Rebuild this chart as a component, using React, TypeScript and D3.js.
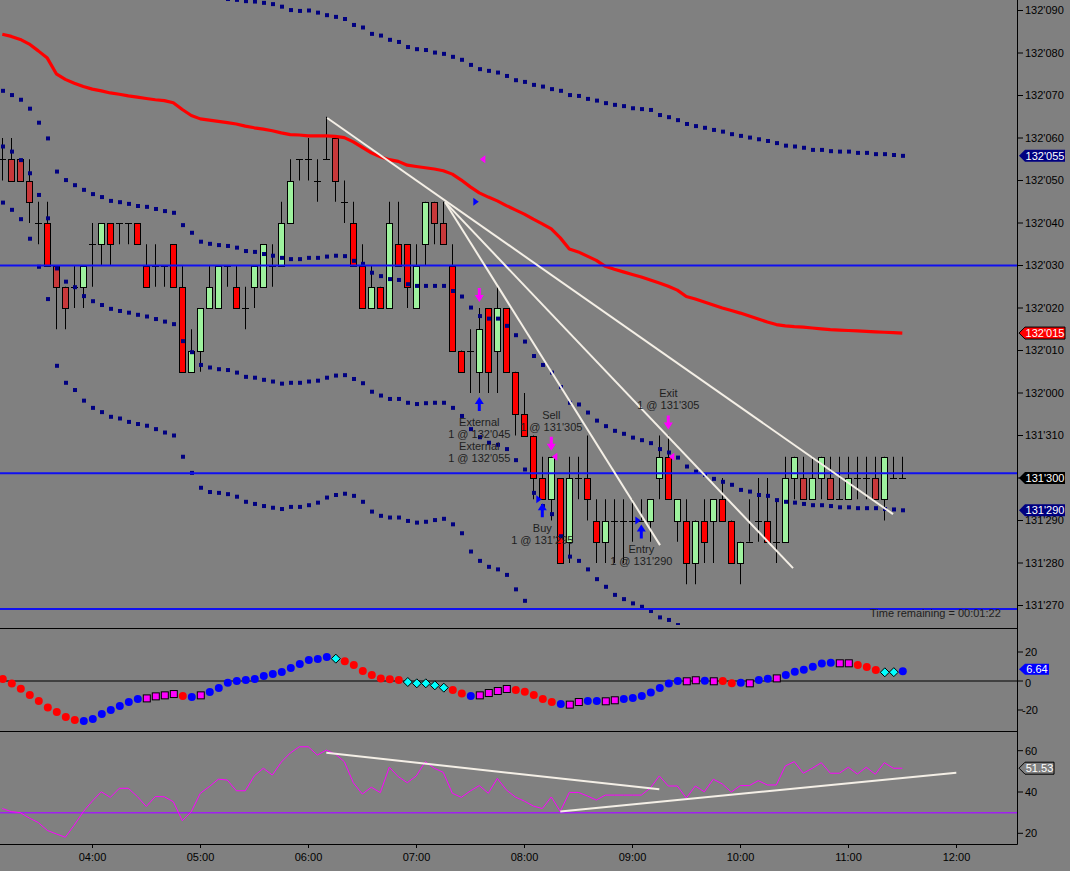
import React from "react";
import * as d3 from "d3";

// ---------------- data ----------------
const sessionStart = "03:10";
const barMinutes = 5;
const timeTickLabels = ["04:00", "05:00", "06:00", "07:00", "08:00", "09:00", "10:00", "11:00", "12:00"];
// prices are expressed in 32nds above 131 (30 = 131'300, 35 = 132'030)
const priceTicks = [27, 28, 29, 30, 31, 32, 33, 34, 35, 36, 37, 38, 39, 40, 41];
const oscTicks = [-20, 0, 20];
const rsiTicks = [20, 40, 60];

const opens = [
  37.5, 37.5, 37.5, 37, 36, 36, 35, 34.5, 34.5, 34.5,
  35.5, 35.5, 36, 36, 36, 36, 35, 35, 35, 35.5,
  34.5, 32.5, 33, 34, 34, 35, 34.5, 34, 34.5, 34.5,
  35, 35, 36, 37.5, 37.5, 37, 37.5, 38, 36.5, 36,
  35, 34, 34.5, 34, 35.5, 35.5, 34, 35.5, 36.5, 36,
  35, 33, 33, 32.5, 34, 33, 34, 32.5, 31.5, 31,
  30, 29.5, 30, 28.5, 30, 30, 29, 28.5, 29, 29,
  29, 29, 29, 30, 30.5, 29, 29, 28, 29, 29,
  29.5, 29, 28, 28.5, 29, 29, 28.5, 28.5, 30, 30,
  29.5, 30, 30, 29.5, 29.5, 30, 30, 30, 29.5, 30,
  30,
];
const highs = [
  38, 38, 37.5, 37.5, 36.5, 36.5, 35, 34.5, 35, 35,
  36, 36, 36, 36, 36, 36, 35.5, 35.5, 35, 35.5,
  35, 33.5, 34, 35, 35, 35, 35, 34.5, 35, 35.5,
  35.5, 36.5, 37.5, 37.5, 38, 37.5, 38.5, 38, 37, 36.5,
  35.5, 35, 34.5, 36.5, 36.5, 35.5, 35.5, 36.5, 36.5, 36.5,
  35.5, 33, 33.5, 34, 34, 34.5, 34, 32.5, 32, 31,
  30.5, 30.5, 30, 30.5, 30.5, 31, 29.5, 29.5, 29.5, 29.5,
  29.5, 29.5, 29.5, 31, 31, 29.5, 29.5, 29, 29.5, 29.5,
  30, 29, 28.5, 29.5, 30, 30, 29.5, 30.5, 30.5, 30.5,
  30.5, 30.5, 30.5, 30.5, 30.5, 30.5, 30.5, 30.5, 30.5, 30.5,
  30.5,
];
const lows = [
  37, 37, 37, 36, 35.5, 35, 33.5, 33.5, 34, 34,
  34.5, 35, 35, 35.5, 35.5, 35.5, 34.5, 34.5, 34.5, 34.5,
  32.5, 32.5, 32.5, 34, 34, 34.5, 34, 33.5, 34, 34.5,
  34.5, 35, 36, 37, 37, 36.5, 37.5, 36.5, 36, 35,
  34, 34, 34, 34, 35, 34, 34, 35, 35.5, 35.5,
  33, 32.5, 32, 32, 32, 32, 32.5, 31, 31, 29.5,
  29.5, 29, 28, 28, 29.5, 29, 28, 28, 28, 28,
  28.5, 29, 28.5, 29.5, 29.5, 28.5, 27.5, 27.5, 28, 28,
  29, 28, 27.5, 28.5, 28.5, 28.5, 28, 28.5, 29.5, 29.5,
  29.5, 29.5, 29.5, 29.5, 29.5, 29.5, 29.5, 29.5, 29, 30,
  30,
];
const closes = [
  37.5, 37, 37, 36.5, 36, 35, 34.5, 34, 34.5, 35,
  35.5, 36, 35.5, 36, 36, 35.5, 34.5, 35, 35, 34.5,
  32.5, 33, 34, 34.5, 35, 35, 34, 34, 35, 35.5,
  35, 36, 37, 37.5, 37.5, 37, 37.5, 37, 36.5, 35,
  34, 34.5, 34, 36, 35, 34.5, 35, 36.5, 36, 35.5,
  33, 32.5, 33, 33.5, 32.5, 34, 32.5, 31.5, 31, 30,
  29.5, 30.5, 28, 30, 30, 29.5, 28.5, 29, 29, 29,
  29, 29, 29.5, 30.5, 29.5, 29.5, 28, 29, 28.5, 29.5,
  29, 28, 28.5, 28.5, 29, 28.5, 28.5, 30, 30.5, 29.5,
  30, 30.5, 29.5, 29.5, 30, 30, 30, 29.5, 30.5, 30,
  30,
];
const darkBars = [1, 2, 3, 6, 7, 37, 48, 49, 89, 92, 97];

const maLine = [
  40.44, 40.39, 40.32, 40.21, 40.05, 39.88, 39.51, 39.38, 39.29, 39.21,
  39.15, 39.11, 39.06, 39.03, 38.99, 38.96, 38.93, 38.90, 38.88, 38.83,
  38.67, 38.53, 38.45, 38.42, 38.39, 38.36, 38.33, 38.28, 38.24, 38.21,
  38.17, 38.12, 38.08, 38.07, 38.05, 38.05, 38.05, 38.04, 38.01, 37.91,
  37.78, 37.65, 37.56, 37.49, 37.45, 37.36, 37.33, 37.30, 37.27, 37.23,
  37.15, 37.01, 36.85, 36.71, 36.61, 36.52, 36.41, 36.31, 36.21, 36.09,
  35.98, 35.86, 35.65, 35.39, 35.32, 35.22, 35.12, 34.98, 34.91, 34.85,
  34.79, 34.73, 34.66, 34.59, 34.51, 34.42, 34.27, 34.21, 34.14, 34.07,
  34.00, 33.94, 33.88, 33.81, 33.74, 33.67, 33.61, 33.58, 33.56, 33.55,
  33.53, 33.51, 33.49, 33.48, 33.47, 33.46, 33.45, 33.44, 33.43, 33.42,
  33.41,
];
const bandUpper = [
  41.77, 41.77, 41.74, 41.73, 41.74, 41.77, 41.81, 41.75, 41.69, 41.64,
  41.62, 41.61, 41.60, 41.57, 41.53, 41.52, 41.48, 41.47, 41.48, 41.42,
  41.39, 41.36, 41.34, 41.33, 41.30, 41.27, 41.25, 41.22, 41.21, 41.18,
  41.15, 41.09, 41.01, 40.99, 41.00, 40.95, 40.89, 40.85, 40.80, 40.66,
  40.60, 40.45, 40.41, 40.31, 40.26, 40.14, 40.09, 40.07, 40.01, 39.98,
  39.91, 39.84, 39.72, 39.62, 39.58, 39.54, 39.46, 39.36, 39.32, 39.25,
  39.21, 39.15, 39.11, 39.01, 38.99, 38.92, 38.88, 38.82, 38.78, 38.75,
  38.70, 38.68, 38.66, 38.54, 38.49, 38.42, 38.33, 38.28, 38.24, 38.19,
  38.15, 38.09, 38.05, 38.01, 37.97, 37.93, 37.88, 37.82, 37.80, 37.77,
  37.72, 37.72, 37.69, 37.68, 37.68, 37.65, 37.65, 37.62, 37.62, 37.60,
  37.58,
];
const bandLower1 = [
  39.11, 39.01, 38.90, 38.69, 38.36, 37.99, 37.21, 37.01, 36.89, 36.78,
  36.68, 36.61, 36.52, 36.49, 36.45, 36.40, 36.38, 36.33, 36.28, 36.24,
  35.95, 35.77, 35.56, 35.51, 35.48, 35.46, 35.42, 35.34, 35.32, 35.27,
  35.23, 35.18, 35.15, 35.15, 35.18, 35.18, 35.21, 35.23, 35.22, 35.11,
  35.04, 34.83, 34.75, 34.68, 34.66, 34.56, 34.52, 34.52, 34.52, 34.52,
  34.40, 34.27, 34.01, 33.81, 33.75, 33.75, 33.58, 33.36, 33.21, 32.87,
  32.66, 32.48, 32.14, 31.77, 31.73, 31.54, 31.35, 31.22, 31.11, 31.04,
  30.95, 30.89, 30.82, 30.68, 30.60, 30.48, 30.27, 30.15, 30.07, 29.98,
  29.91, 29.84, 29.72, 29.68, 29.60, 29.58, 29.48, 29.44, 29.42, 29.39,
  29.36, 29.36, 29.34, 29.31, 29.31, 29.29, 29.29, 29.29, 29.27, 29.26,
  29.24,
];
const bandLower2 = [
  37.80, 37.68, 37.48, 37.17, 36.66, 36.11, 34.93, 34.62, 34.49, 34.28,
  34.16, 34.07, 33.98, 33.93, 33.89, 33.84, 33.80, 33.74, 33.68, 33.62,
  33.22, 32.96, 32.66, 32.60, 32.56, 32.54, 32.48, 32.38, 32.36, 32.31,
  32.27, 32.22, 32.24, 32.24, 32.27, 32.29, 32.36, 32.41, 32.42, 32.33,
  32.23, 32.03, 31.94, 31.86, 31.86, 31.77, 31.74, 31.76, 31.77, 31.77,
  31.65, 31.46, 31.15, 30.96, 30.83, 30.78, 30.68, 30.42, 30.20, 29.65,
  29.34, 29.15, 28.63, 28.15, 28.05, 27.85, 27.62, 27.44, 27.25, 27.15,
  27.05, 26.97, 26.87, 26.72, 26.66, 26.54, 26.27, 26.09, 26.00, 25.89,
  25.82, 25.74, 25.56, 25.55, 25.46, 25.49, 25.35, 25.30, 25.28, 25.23,
  25.19, 25.21, 25.19, 25.14, 25.15, 25.12, 25.13, 25.14, 25.11, 25.10,
  25.07,
];
const bandLower3 = [
  36.48, 36.31, 36.09, 35.63, 34.97, 34.21, 32.64, 32.24, 32.07, 31.82,
  31.65, 31.55, 31.44, 31.40, 31.32, 31.27, 31.23, 31.15, 31.07, 31.00,
  30.50, 30.12, 29.77, 29.67, 29.65, 29.62, 29.56, 29.44, 29.39, 29.34,
  29.30, 29.27, 29.32, 29.32, 29.36, 29.42, 29.54, 29.60, 29.63, 29.58,
  29.44, 29.21, 29.11, 29.07, 29.07, 28.99, 28.95, 28.97, 29.01, 29.04,
  28.91, 28.70, 28.27, 28.05, 27.91, 27.85, 27.72, 27.38, 27.11, 26.43,
  26.02, 25.72, 25.12, 24.53, 24.55, 24.18, 23.81, 23.70, 23.51, 23.42,
  23.27, 23.21, 23.14, 22.86, 22.78, 22.60, 22.27, 22.03, 21.93, 21.80,
  21.73, 21.64, 21.40, 21.42, 21.32, 21.40, 21.22, 21.16, 21.14, 21.07,
  21.02, 21.06, 21.04, 20.97, 20.99, 20.95, 20.97, 20.99, 20.95, 20.94,
  20.90,
];
const levelLines = [35, 30.11, 26.92];

// trend lines: [bar1, price1, bar2, price2]
const priceTrendLines = [
  [36.1, 38.47, 98.97, 29.15],
  [49.2, 36.49, 87.86, 27.88],
  [49.2, 36.49, 73.08, 28.42],
];

// executions
const tradeBars = [53, 53, 60, 61, 71, 74];
const tradeSides = ["buy", "sell", "buy", "sell", "buy", "sell"];
const tradePrices = [36.5, 37.5, 29.5, 30.5, 29, 30.5];
const tradeNames = ["External", "External", "Buy", "Sell", "Entry", "Exit"];
const tradeLabelPos = ["below", "below", "below", "above", "below", "above"];
const timeRemaining = "Time remaining = 00:01:22";

// oscillator panel
const oscValues = [
  1.4, -1.8, -5.3, -9.7, -13.8, -18.2, -21.4, -24.8, -26.9, -27.6,
  -26.2, -22.8, -20.0, -17.2, -14.5, -12.4, -12.0, -10.6, -9.9, -9.0,
  -10.3, -11.0, -9.9, -7.6, -4.8, -1.2, 0.0, 0.7, 1.4, 3.4,
  4.8, 6.2, 9.0, 11.7, 14.5, 15.2, 16.6, 15.4, 13.6, 11.0,
  6.9, 4.1, 1.8, 1.2, 0.7, -0.7, -1.6, -1.6, -3.0, -4.6,
  -6.2, -8.7, -10.3, -9.9, -8.3, -6.9, -5.5, -6.2, -7.4, -9.7,
  -12.4, -14.5, -15.9, -16.3, -14.5, -13.8, -13.8, -14.0, -13.3, -12.4,
  -11.7, -10.3, -8.0, -4.8, -1.8, 0.0, -0.2, 0.5, 0.2, -0.2,
  0.0, -1.6, -1.2, -1.6, 0.7, 1.6, 1.8, 4.1, 6.4, 7.8,
  9.9, 12.0, 12.6, 12.2, 12.2, 11.0, 9.7, 7.6, 6.0, 6.1,
  6.64,
];
const oscKinds =
  "rrrrrrrrrb" + "bbbbbbmmmm" + "rbmbbbbbbb" + "bbbbbbbcrr" + "rrrrrccccc" +
  "rrbmmmmrrr" + "rrbmmbbmmb" + "bbbbbbmmbm" + "rrbmbbmbbb" + "bbbmmrrrcc" + "b";

// RSI panel
const rsiValues = [
  32.0, 30.5, 30.0, 27.4, 25.2, 21.4, 19.7, 18.1, 24.0, 30.5,
  35.6, 40.1, 37.4, 41.8, 41.8, 37.8, 33.0, 37.8, 37.7, 35.3,
  26.1, 30.5, 39.4, 42.6, 46.2, 45.8, 40.6, 40.6, 47.8, 51.5,
  48.2, 54.5, 58.9, 61.9, 61.9, 57.9, 60.3, 58.4, 54.7, 44.5,
  39.0, 42.3, 39.7, 52.0, 47.4, 44.5, 47.8, 54.7, 51.5, 49.5,
  39.4, 37.4, 40.5, 43.1, 39.4, 46.6, 41.0, 37.6, 35.6, 33.2,
  32.0, 37.6, 30.6, 39.8, 39.8, 38.1, 36.1, 38.5, 38.5, 38.5,
  38.5, 38.5, 41.9, 47.8, 42.9, 42.9, 37.1, 42.9, 40.1, 46.2,
  43.9, 40.0, 43.1, 43.1, 45.5, 43.4, 43.4, 52.6, 54.7, 49.1,
  51.5, 54.2, 49.1, 49.1, 52.0, 48.7, 52.0, 48.6, 54.2, 51.5,
  51.53,
];
const rsiLevel = 30;
const rsiTrendLines = [
  [36, 59.0, 73, 41.3],
  [62, 30.6, 106, 49.3],
];

// ---------------- layout ----------------
const W = 1070;
const H = 871;
const AXIS_X = 1017;
const MAIN_BOT = 628;
const OSC_BOT = 731;
const RSI_BOT = 844;
const FONT = "'Liberation Sans', Arial, Helvetica, sans-serif";

const fmtPrice = (u: number) => {
  const r = Math.round(u * 2) / 2;
  const whole = Math.floor(r / 32);
  const frac = r - whole * 32;
  return `${131 + whole}'${String(Math.round(frac * 10)).padStart(3, "0")}`;
};
const toMin = (s: string) => {
  const [h, m] = s.split(":").map(Number);
  return h * 60 + m;
};

const Tag = ({ y, text, fill, stroke, w, h = 6 }: { y: number; text: string; fill: string; stroke?: string; w: number; h?: number }) => {
  const x0 = AXIS_X + 2;
  const pts = [
    [x0, y],
    [x0 + 6, y - h],
    [x0 + w, y - h],
    [x0 + w, y + h],
    [x0 + 6, y + h],
  ]
    .map((p) => p.join(","))
    .join(" ");
  return (
    <g>
      <polygon points={pts} fill={fill} stroke={stroke || "none"} strokeWidth={1} />
      <text x={x0 + 6 + (w - 6) / 2} y={y} dy="0.35em" textAnchor="middle" fill="#fff" fontSize={11} fontFamily={FONT}>
        {text}
      </text>
    </g>
  );
};

export default function App() {
  const n = closes.length;
  const x = d3.scaleLinear().domain([0, 100]).range([2.3, 902.3]);
  const yMain = d3.scaleLinear().domain([27, 41]).range([605.5, 10.5]);
  const yOsc = d3.scaleLinear().domain([-20, 20]).range([710, 652]);
  const yRsi = d3.scaleLinear().domain([20, 60]).range([833.3, 750.7]);
  const barOf = (t: string) => (toMin(t) - toMin(sessionStart)) / barMinutes;

  const maPath = d3
    .line<number>()
    .x((_, i) => x(i))
    .y((d) => yMain(d))(maLine) as string;
  const rsiPath = d3
    .line<number>()
    .x((_, i) => x(i))
    .y((d) => yRsi(d))(rsiValues) as string;

  const bands = [bandUpper, bandLower1, bandLower2, bandLower3];

  const arrowKeys: { bar: number; side: string }[] = [];
  tradeBars.forEach((b, i) => {
    if (!arrowKeys.find((a) => a.bar === b && a.side === tradeSides[i])) arrowKeys.push({ bar: b, side: tradeSides[i] });
  });
  const buyTip = (b: number) => yMain(lows[b]) + 4;
  const sellTip = (b: number) => yMain(highs[b]) - 6;

  const labelLines: { x: number; y: number; t: string }[] = [];
  const belowCount: Record<number, number> = {};
  const aboveGroups: Record<number, string[][]> = {};
  tradeBars.forEach((b, i) => {
    const lines = [tradeNames[i], `1 @ ${fmtPrice(tradePrices[i])}`];
    if (tradeLabelPos[i] === "below") {
      const k = belowCount[b] || 0;
      const base = buyTip(b) + 14 + 11;
      lines.forEach((t, j) => labelLines.push({ x: x(b), y: base + 12 * (k + j), t }));
      belowCount[b] = k + lines.length;
    } else {
      (aboveGroups[b] = aboveGroups[b] || []).push(lines);
    }
  });
  Object.entries(aboveGroups).forEach(([bs, groups]) => {
    const b = Number(bs);
    const all = groups.flat();
    const top = sellTip(b) - 14;
    all.forEach((t, j) => labelLines.push({ x: x(b), y: top - 10 - 12 * (all.length - 1 - j), t }));
  });

  const px = (i: number) => Math.round(x(i)) + 0.5;

  return (
    <svg width={W} height={H} style={{ position: "absolute", left: 0, top: 0, display: "block" }} fontFamily={FONT}>
      <defs>
        <clipPath id="clipMain">
          <rect x={0} y={0} width={AXIS_X} height={MAIN_BOT} />
        </clipPath>
        <clipPath id="clipBands">
          <rect x={0} y={0} width={AXIS_X} height={625} />
        </clipPath>
        <clipPath id="clipOsc">
          <rect x={0} y={MAIN_BOT} width={AXIS_X} height={OSC_BOT - MAIN_BOT} />
        </clipPath>
        <clipPath id="clipRsi">
          <rect x={0} y={OSC_BOT} width={AXIS_X} height={RSI_BOT - OSC_BOT} />
        </clipPath>
      </defs>
      <rect x={0} y={0} width={W} height={H} fill="#808080" />

      {/* ---------- main panel ---------- */}
      <g clipPath="url(#clipMain)">
        {closes.map((c, i) => {
          const o = opens[i];
          const cx = px(i);
          const up = c > o;
          const fill = up ? "#9ef29e" : darkBars.includes(i) ? "#c8383a" : "#ff0000";
          const yTop = yMain(Math.max(o, c));
          const yBot = yMain(Math.min(o, c));
          return (
            <g key={`c${i}`}>
              <line x1={cx} x2={cx} y1={yMain(highs[i])} y2={yMain(lows[i])} stroke="#000" strokeWidth={1} />
              {o === c ? (
                <line x1={cx - 3.5} x2={cx + 3.5} y1={Math.round(yTop) + 0.5} y2={Math.round(yTop) + 0.5} stroke="#000" strokeWidth={1} />
              ) : (
                <rect x={cx - 3} y={Math.round(yTop) + 0.5} width={6} height={Math.round(yBot) - Math.round(yTop)} fill={fill} stroke="#000" strokeWidth={1} />
              )}
            </g>
          );
        })}

        <g clipPath="url(#clipBands)">
          {bands.map((band, bi) =>
            band.map((v, i) => (
              <rect key={`b${bi}-${i}`} x={x(i) - 1.3} y={yMain(v) - 2} width={4} height={4} fill="#000080" />
            ))
          )}
        </g>

        <path d={maPath} fill="none" stroke="#ff0000" strokeWidth={3.2} strokeLinejoin="round" />

        {levelLines.map((v, i) => (
          <line key={`l${i}`} x1={0} x2={AXIS_X} y1={yMain(v)} y2={yMain(v)} stroke="#1010f0" strokeWidth={2} />
        ))}

        {priceTrendLines.map((t, i) => (
          <line key={`t${i}`} x1={x(t[0])} y1={yMain(t[1])} x2={x(t[2])} y2={yMain(t[3])} stroke="#f4efe6" strokeWidth={2} />
        ))}

        {tradeBars.map((b, i) => {
          const cx = x(b);
          const y = yMain(tradePrices[i]);
          const pts =
            tradeSides[i] === "buy"
              ? [[cx - 0.5, y], [cx - 6, y - 4], [cx - 6, y + 4]]
              : [[cx + 0.5, y], [cx + 6, y - 4], [cx + 6, y + 4]];
          return <polygon key={`tr${i}`} points={pts.map((p) => p.join(",")).join(" ")} fill={tradeSides[i] === "buy" ? "#0000ff" : "#ff00ff"} />;
        })}

        {arrowKeys.map((a, i) => {
          const cx = x(a.bar);
          if (a.side === "buy") {
            const t = buyTip(a.bar);
            const pts = [[cx, t], [cx + 4.5, t + 7], [cx + 1.5, t + 7], [cx + 1.5, t + 14], [cx - 1.5, t + 14], [cx - 1.5, t + 7], [cx - 4.5, t + 7]];
            return <polygon key={`a${i}`} points={pts.map((p) => p.join(",")).join(" ")} fill="#0000ff" />;
          }
          const t = sellTip(a.bar);
          const pts = [[cx, t], [cx + 4.5, t - 7], [cx + 1.5, t - 7], [cx + 1.5, t - 14], [cx - 1.5, t - 14], [cx - 1.5, t - 7], [cx - 4.5, t - 7]];
          return <polygon key={`a${i}`} points={pts.map((p) => p.join(",")).join(" ")} fill="#ff00ff" />;
        })}

        {labelLines.map((l, i) => (
          <text key={`tl${i}`} x={l.x} y={l.y} dy="0.35em" textAnchor="middle" fontSize={11} fill="#1e1e1e">
            {l.t}
          </text>
        ))}

        <text x={870} y={613} dy="0.35em" fontSize={11} fill="#1e1e1e">
          {timeRemaining}
        </text>
      </g>

      {/* ---------- oscillator panel ---------- */}
      <line x1={0} x2={AXIS_X} y1={yOsc(0)} y2={yOsc(0)} stroke="#000" strokeWidth={1} />
      <g clipPath="url(#clipOsc)">
        {oscValues.map((v, i) => {
          const k = oscKinds[i];
          const cx = x(i) + 0.5;
          const cy = yOsc(v);
          if (k === "r" || k === "b")
            return <circle key={`o${i}`} cx={cx} cy={cy} r={4} fill={k === "r" ? "#ff0000" : "#0000ff"} />;
          if (k === "m")
            return <rect key={`o${i}`} x={cx - 3.5} y={cy - 3.5} width={7} height={7} fill="#ff00ff" stroke="#000" strokeWidth={1} />;
          return (
            <polygon
              key={`o${i}`}
              points={`${cx},${cy - 4.5} ${cx + 4.5},${cy} ${cx},${cy + 4.5} ${cx - 4.5},${cy}`}
              fill="#00ffff"
              stroke="#000"
              strokeWidth={1}
            />
          );
        })}
      </g>

      {/* ---------- RSI panel ---------- */}
      <g clipPath="url(#clipRsi)">
        <line x1={0} x2={AXIS_X} y1={yRsi(rsiLevel)} y2={yRsi(rsiLevel)} stroke="#a020f0" strokeWidth={1.5} />
        <path d={rsiPath} fill="none" stroke="#ff00ff" strokeWidth={1} />
        {rsiTrendLines.map((t, i) => (
          <line key={`rt${i}`} x1={x(t[0])} y1={yRsi(t[1])} x2={x(t[2])} y2={yRsi(t[3])} stroke="#f4efe6" strokeWidth={2} />
        ))}
      </g>

      {/* ---------- frame ---------- */}
      <line x1={0} x2={AXIS_X} y1={MAIN_BOT + 0.5} y2={MAIN_BOT + 0.5} stroke="#000" />
      <line x1={0} x2={AXIS_X} y1={OSC_BOT + 0.5} y2={OSC_BOT + 0.5} stroke="#000" />
      <line x1={0} x2={AXIS_X + 0.5} y1={RSI_BOT + 0.5} y2={RSI_BOT + 0.5} stroke="#000" />
      <line x1={AXIS_X + 0.5} x2={AXIS_X + 0.5} y1={0} y2={RSI_BOT + 0.5} stroke="#000" />

      {priceTicks.map((t) => (
        <g key={`pt${t}`}>
          <line x1={AXIS_X} x2={AXIS_X + 6} y1={yMain(t)} y2={yMain(t)} stroke="#000" />
          <text x={AXIS_X + 8} y={yMain(t)} dy="0.35em" fontSize={11} fill="#000">
            {fmtPrice(t)}
          </text>
        </g>
      ))}
      {oscTicks.map((t) => (
        <g key={`ot${t}`}>
          <line x1={AXIS_X} x2={AXIS_X + 6} y1={yOsc(t)} y2={yOsc(t)} stroke="#000" />
          <text x={AXIS_X + (t < 0 ? 5 : 8)} y={yOsc(t) + (t === 0 ? 2 : 0)} dy="0.35em" fontSize={11} fill="#000">
            {t}
          </text>
        </g>
      ))}
      {rsiTicks.map((t) => (
        <g key={`rt${t}`}>
          <line x1={AXIS_X} x2={AXIS_X + 6} y1={yRsi(t)} y2={yRsi(t)} stroke="#000" />
          <text x={AXIS_X + 8} y={yRsi(t)} dy="0.35em" fontSize={11} fill="#000">
            {t}
          </text>
        </g>
      ))}

      {timeTickLabels.map((t) => {
        const tx = Math.round(x(barOf(t))) + 0.5;
        return (
          <g key={`tt${t}`}>
            <line x1={tx} x2={tx} y1={RSI_BOT} y2={RSI_BOT + 4} stroke="#000" />
            <text x={tx} y={857} dy="0.35em" textAnchor="middle" fontSize={11} fill="#000">
              {t}
            </text>
          </g>
        );
      })}

      <Tag y={yMain(bandUpper[n - 1])} text={fmtPrice(bandUpper[n - 1])} fill="#000080" w={46} />
      <Tag y={yMain(maLine[n - 1])} text={fmtPrice(maLine[n - 1])} fill="#ff0000" stroke="#000" w={46} />
      <Tag y={yMain(closes[n - 1])} text={fmtPrice(closes[n - 1])} fill="#000" w={46} />
      <Tag y={yMain(bandLower1[n - 1])} text={fmtPrice(bandLower1[n - 1])} fill="#000080" w={46} />
      <Tag y={yOsc(oscValues[n - 1]) - 2} text={oscValues[n - 1].toFixed(2)} fill="#0000ff" w={30} h={5.5} />
      <Tag y={yRsi(rsiValues[n - 1])} text={rsiValues[n - 1].toFixed(2)} fill="#808080" stroke="#000" w={35} />
    </svg>
  );
}
